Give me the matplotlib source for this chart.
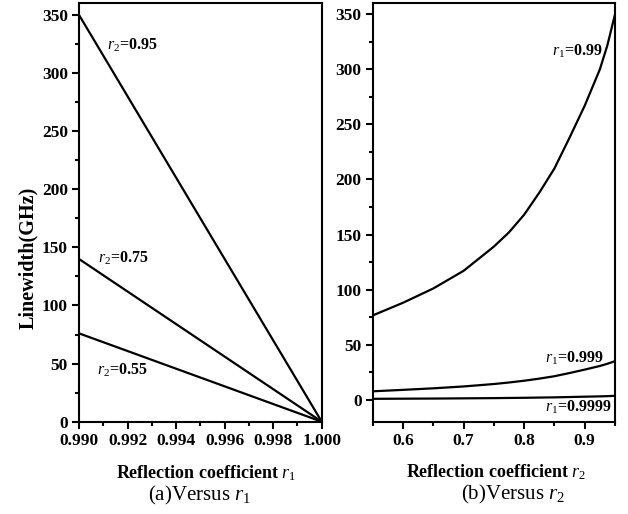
import matplotlib
matplotlib.use("Agg")
import matplotlib.pyplot as plt
from matplotlib.ticker import MultipleLocator, FormatStrFormatter

plt.rcParams['font.family'] = ['Liberation Serif', 'DejaVu Serif']
plt.rcParams['mathtext.fontset'] = 'custom'
plt.rcParams['mathtext.rm'] = 'Liberation Serif'
plt.rcParams['mathtext.it'] = 'Liberation Serif:italic'
plt.rcParams['mathtext.bf'] = 'Liberation Serif:bold'

# (a) linewidth versus r1, for three r2 values (straight lines)
r1_vals = [0.990, 1.000]
lw_r2_095 = [350, 0]
lw_r2_075 = [140, 0]
lw_r2_055 = [76, 0]

# (b) linewidth versus r2, for three r1 values
r2_vals = [0.55, 0.60, 0.65, 0.70, 0.75, 0.775, 0.80, 0.825, 0.85, 0.875,
           0.90, 0.925, 0.9375, 0.95]
lw_r1_099 = [76.5, 88, 101, 117, 139, 152, 168, 188, 210, 238,
             267, 300, 322, 350]
lw_r1_0999 = [7.6, 8.9, 10.3, 12.0, 14.2, 15.6, 17.2, 19.1, 21.3, 24.2,
              27.3, 30.6, 32.6, 35.0]
lw_r1_09999 = [0.77, 0.89, 1.0, 1.2, 1.4, 1.55, 1.7, 1.9, 2.1, 2.4,
               2.7, 3.0, 3.2, 3.5]

fig = plt.figure(figsize=(6.28, 5.14), dpi=100)
axA = fig.add_axes([0.1258, 0.1796, 0.3865, 0.814])
axB = fig.add_axes([0.5935, 0.1796, 0.3858, 0.814])

lc = 'black'
lwid = 1.6
axA.plot(r1_vals, lw_r2_095, color=lc, lw=lwid)
axA.plot(r1_vals, lw_r2_075, color=lc, lw=lwid)
axA.plot(r1_vals, lw_r2_055, color=lc, lw=lwid)
axA.set_xlim(0.990, 1.000)
axA.set_ylim(0, 360)
axA.xaxis.set_major_locator(MultipleLocator(0.002))
axA.xaxis.set_minor_locator(MultipleLocator(0.001))
axA.xaxis.set_major_formatter(FormatStrFormatter('%.3f'))
axA.yaxis.set_major_locator(MultipleLocator(50))
axA.yaxis.set_minor_locator(MultipleLocator(25))

axB.plot(r2_vals, lw_r1_099, color=lc, lw=lwid, solid_joinstyle='round')
axB.plot(r2_vals, lw_r1_0999, color=lc, lw=lwid, solid_joinstyle='round')
axB.plot(r2_vals, lw_r1_09999, color=lc, lw=lwid, solid_joinstyle='round')
axB.set_xlim(0.55, 0.95)
axB.set_ylim(-20, 360)
axB.xaxis.set_major_locator(MultipleLocator(0.1))
axB.xaxis.set_minor_locator(MultipleLocator(0.05))
axB.xaxis.set_major_formatter(FormatStrFormatter('%.1f'))
axB.yaxis.set_major_locator(MultipleLocator(50))
axB.yaxis.set_minor_locator(MultipleLocator(25))

for ax in (axA, axB):
    for s in ax.spines.values():
        s.set_linewidth(1.5)
    ax.tick_params(which='both', direction='out', top=False, right=False, width=1.5)
    ax.tick_params(which='major', length=5, labelsize=12.5, pad=3)
    ax.tick_params(which='minor', length=3)
    for t in ax.get_xticklabels() + ax.get_yticklabels():
        t.set_fontweight('bold')

fig.text(28/628, 1 - 258/514, 'Linewidth(GHz)', fontsize=14.5, fontweight='bold',
         rotation=90, ha='center', va='center')

lab_fs = 11.5
axA.text(0.99115, 324, r'$r_{2}$=0.95', fontsize=lab_fs, fontweight='bold', ha='left', va='center')
axA.text(0.99078, 141, r'$r_{2}$=0.75', fontsize=lab_fs, fontweight='bold', ha='left', va='center')
axA.text(0.99074, 44, r'$r_{2}$=0.55', fontsize=lab_fs, fontweight='bold', ha='left', va='center')

axB.text(0.8454, 316, r'$r_{1}$=0.99', fontsize=lab_fs, fontweight='bold', ha='left', va='center')
axB.text(0.834, 38, r'$r_{1}$=0.999', fontsize=lab_fs, fontweight='bold', ha='left', va='center')
axB.text(0.834, -6.5, r'$r_{1}$=0.9999', fontsize=lab_fs, fontweight='bold', ha='left', va='center')

fig.text(206/628, 1 - 473/514, r'Reflection coefficient $r_{1}$', fontsize=13, fontweight='bold',
         ha='center', va='center')
fig.text(199/628, 1 - 495/514, r'(a)Versus $r_{1}$', fontsize=15, ha='center', va='center')
fig.text(496/628, 1 - 472/514, r'Reflection coefficient $r_{2}$', fontsize=13, fontweight='bold',
         ha='center', va='center')
fig.text(513/628, 1 - 494/514, r'(b)Versus $r_{2}$', fontsize=15, ha='center', va='center')

fig.savefig('out.png', dpi=100)
